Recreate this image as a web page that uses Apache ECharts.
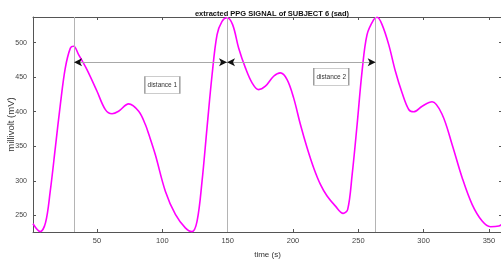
<!DOCTYPE html>
<html>
<head>
<meta charset="utf-8">
<script src="https://cdn.jsdelivr.net/npm/echarts@6/dist/echarts.min.js"></script>
<style>
  html, body { margin: 0; padding: 0; background: #fff; }
  #chart { width: 501px; height: 265px; }
</style>
</head>
<body>
<div id="chart"></div>
<script>
// PPG trace
const time = [1, 6.6, 10.6, 14.2, 18.1, 21.9, 25.7, 29.6, 32.1, 35.9, 42.3, 50, 56.4, 61.5, 66.5, 74.2, 81.9, 87, 89.5, 94.6,
  102.3, 110, 117.6, 122.7, 126.6, 130.4, 134.2, 138.1, 141.9, 145.7, 149.5, 153.8, 158.4, 163.6, 168.7, 173.7, 178.9, 185.2, 190.4, 195.5,
  200.5, 205.7, 210.8, 215.8, 221, 226.1, 232.5, 238.4, 241.9, 245.3, 249.1, 252.9, 256.7, 261.8, 264.4, 268.2, 273.3, 278.4, 283.5, 288.6,
  292.4, 298.9, 306.5, 314.2, 321.8, 329.5, 337.1, 344.8, 351.2, 357.6, 360]
const millivolt = [238, 226.5, 239.5, 285, 348, 410, 463, 492, 494.7, 482.7, 461, 429.6, 403, 397, 400.7, 411.4, 400.7, 381.5, 368, 338,
  285, 251.4, 232, 226.5, 241.8, 299.6, 376.7, 453.8, 511.6, 530.8, 536, 526, 492.3, 463.4, 441.8, 432, 436.9, 451.3, 456.2, 446.5,
  420, 381.5, 347.8, 319, 294.8, 278, 263.4, 252.9, 258.7, 309, 381.5, 458.6, 511.6, 533.2, 536.6, 526, 497, 458.5, 427.3, 403.2,
  399.9, 408, 414.3, 396, 352.6, 304.5, 266, 241.8, 233.7, 234.6, 237]

const xTicks = [50, 100, 150, 200, 250, 300, 350]
const yTicks = [250, 300, 350, 400, 450, 500]

// peaks marked by vertical lines, and the level of the distance arrows
const peakTimes = [32.4, 149.5, 263.3]
const arrowLevel = 471.5
const distanceLabels = ['distance 1', 'distance 2']
const labelBoxes = [[100, 438.6], [229.3, 450.6]]

const font = '"Liberation Sans Narrow", "Liberation Sans", Arial, sans-serif'
const axisColor = '#555'

let chart = echarts.init(document.getElementById('chart'))

// markLine items: vertical lines through peaks and the horizontal distance segments
let lines = peakTimes.map(t => ({ xAxis: t, lineStyle: { color: '#b4b4b4', width: 1, type: 'solid' } }))
for (let i = 0; i < peakTimes.length - 1; i++) {
  lines.push([
    { coord: [peakTimes[i], arrowLevel], lineStyle: { color: '#a8a8a8', width: 1, type: 'solid' } },
    { coord: [peakTimes[i + 1], arrowLevel] }
  ])
}

// arrow heads (black) and text boxes
let points = []
for (let i = 0; i < peakTimes.length - 1; i++) {
  points.push({ coord: [peakTimes[i], arrowLevel], symbol: 'arrow', symbolSize: [6, 8], symbolRotate: 90 })
  points.push({ coord: [peakTimes[i + 1], arrowLevel], symbol: 'arrow', symbolSize: [6, 8], symbolRotate: -90 })
}
points = points.map(p => Object.assign(p, { itemStyle: { color: '#111' }, label: { show: false } }))
distanceLabels.forEach((txt, i) => {
  points.push({
    coord: labelBoxes[i],
    symbol: 'rect',
    symbolSize: [35, 17],
    itemStyle: { color: '#fff', borderColor: '#9a9a9a', borderWidth: 1 },
    label: { show: true, position: 'inside', formatter: txt, color: '#333', fontSize: 6.5, fontFamily: font }
  })
})

const tickStyle = { show: true, inside: true, length: 3, lineStyle: { color: axisColor } }

chart.setOption({
  animation: false,
  title: {
    text: 'extracted PPG SIGNAL of SUBJECT 6 (sad)',
    left: 267,
    top: 5,
    textAlign: 'center',
    textStyle: { fontSize: 7.5, fontWeight: 'bold', color: '#111', fontFamily: font }
  },
  grid: { left: 33, right: -1, top: 17, bottom: 33, outerBoundsMode: 'none', containLabel: false },
  xAxis: [
    {
      type: 'value', min: 1, max: 360,
      name: 'time (s)', nameLocation: 'middle', nameGap: 19, nameMoveOverlap: false,
      nameTextStyle: { fontSize: 8, color: '#333', fontFamily: font },
      axisLine: { lineStyle: { color: axisColor } },
      axisTick: Object.assign({ customValues: xTicks }, tickStyle),
      axisLabel: { customValues: xTicks, fontSize: 7.5, color: '#444', margin: 5, fontFamily: font },
      splitLine: { show: false }
    },
    {
      type: 'value', min: 1, max: 360, position: 'top',
      axisLine: { show: true, lineStyle: { color: axisColor } },
      axisTick: Object.assign({ customValues: xTicks }, tickStyle),
      axisLabel: { show: false },
      splitLine: { show: false }
    }
  ],
  yAxis: [
    {
      type: 'value', min: 226, max: 537,
      name: 'millivolt (mV)', nameLocation: 'middle', nameGap: 17, nameMoveOverlap: false,
      nameTextStyle: { fontSize: 9.5, color: '#333', fontFamily: '"Liberation Sans", Arial, sans-serif' },
      axisLine: { show: true, lineStyle: { color: axisColor } },
      axisTick: Object.assign({ customValues: yTicks }, tickStyle),
      axisLabel: { customValues: yTicks, fontSize: 7, color: '#444', margin: 6, fontFamily: font },
      splitLine: { show: false }
    },
    {
      type: 'value', min: 226, max: 537, position: 'right',
      axisLine: { show: true, lineStyle: { color: axisColor } },
      axisTick: Object.assign({ customValues: yTicks }, tickStyle),
      axisLabel: { show: false },
      splitLine: { show: false }
    }
  ],
  series: [
    {
      type: 'line',
      data: time.map((t, i) => [t, millivolt[i]]),
      smooth: 0.35,
      showSymbol: false,
      lineStyle: { color: '#ff00ff', width: 1.6 },
      itemStyle: { color: '#ff00ff' },
      markLine: { silent: true, symbol: ['none', 'none'], label: { show: false }, data: lines },
      markPoint: { silent: true, data: points }
    }
  ]
})
</script>
</body>
</html>
